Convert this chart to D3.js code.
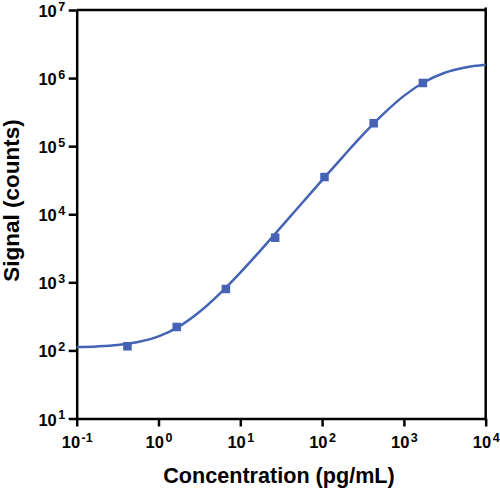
<!DOCTYPE html>
<html>
<head>
<meta charset="utf-8">
<script src="https://cdn.jsdelivr.net/npm/d3@7"></script>
<style>
  html, body { margin: 0; padding: 0; background: #fff; }
  svg { display: block; font-family: "Liberation Sans", Arial, sans-serif; }
</style>
</head>
<body>
<svg id="chart" width="500" height="492"></svg>
<script>
// Measured standards
const concentration = [0.417, 1.67, 6.67, 26.7, 107, 427, 1708];
const signal = [115, 221, 798, 4520, 35200, 217000, 847000];

// Fitted curve
const fitConc = [0.1, 0.178, 0.316, 0.562, 1, 1.78, 3.16, 5.62, 10, 17.8, 31.6, 56.2, 100, 178, 316, 562, 1000, 1780, 3160, 5620, 10000];
const fitSignal = [112, 114.5, 120, 133, 161, 224, 366, 682, 1391, 2975, 6509, 14370, 31710, 69150, 147400, 297900, 548000, 876700, 1198000, 1432000, 1569000];

// Axis ticks
const xTickExps = [-1, 0, 1, 2, 3, 4];
const yTickExps = [1, 2, 3, 4, 5, 6, 7];

const color = "#4563B5";
const svg = d3.select("#chart");
const mLeft = 76.7, mRight = 485.7, mTop = 10, mBottom = 418.5;

const x = d3.scaleLog().domain([0.1, 10000]).range([mLeft, mRight]);
const y = d3.scaleLog().domain([10, 1e7]).range([mBottom, mTop]);

function supLabels(sel, exps) {
  sel.selectAll(".tick text").each(function(d, i) {
    const t = d3.select(this).text(null)
      .style("font-size", "16.5px").style("font-weight", "bold")
      .style("font-family", "'Liberation Sans', Arial, sans-serif").attr("fill", "#000");
    t.append("tspan").text("10");
    t.append("tspan").attr("dx", 1.5).attr("dy", -6.5).style("font-size", "12.5px").text(exps[i]);
  });
}

// Frame (top and right)
svg.append("line").attr("x1", mLeft).attr("x2", mRight).attr("y1", mTop).attr("y2", mTop)
  .attr("stroke", "#000").attr("stroke-width", 2.5);
svg.append("line").attr("x1", mRight).attr("x2", mRight).attr("y1", mTop - 2.5).attr("y2", mBottom)
  .attr("stroke", "#000").attr("stroke-width", 2.5);

// X axis
const gx = svg.append("g").attr("transform", `translate(0,${mBottom})`)
  .call(d3.axisBottom(x).tickValues(xTickExps.map(e => Math.pow(10, e))).tickSize(8).tickSizeOuter(0).tickFormat(() => ""));
gx.select(".domain").attr("stroke-width", 2.5);
gx.selectAll(".tick line").attr("stroke-width", 2.5);
gx.selectAll(".tick text").attr("y", 29.5).attr("dy", 0);
supLabels(gx, xTickExps);

// Y axis
const gy = svg.append("g").attr("transform", `translate(${mLeft},0)`)
  .call(d3.axisLeft(y).tickValues(yTickExps.map(e => Math.pow(10, e))).tickSize(8).tickSizeOuter(0).tickFormat(() => ""));
gy.select(".domain").attr("stroke-width", 2.5);
gy.selectAll(".tick line").attr("stroke-width", 2.5);
gy.selectAll(".tick text").attr("x", -11.5).attr("dy", 6.5);
supLabels(gy, yTickExps);

// Fitted curve
const line = d3.line().x((d, i) => x(fitConc[i])).y(d => y(d)).curve(d3.curveMonotoneX);
svg.append("path").datum(fitSignal).attr("d", line)
  .attr("fill", "none").attr("stroke", color).attr("stroke-width", 2.5);

// Points
const s = 8.5;
svg.append("g").selectAll("rect").data(signal).join("rect")
  .attr("x", (d, i) => x(concentration[i]) - s / 2)
  .attr("y", d => y(d) - s / 2)
  .attr("width", s).attr("height", s)
  .attr("fill", color);

// Axis titles
svg.append("text").attr("x", 279).attr("y", 483).attr("text-anchor", "middle")
  .attr("font-size", 21.6).attr("font-weight", "bold").attr("fill", "#000")
  .text("Concentration (pg/mL)");
svg.append("text").attr("transform", "translate(18.5,200.5) rotate(-90)").attr("text-anchor", "middle")
  .attr("font-size", 22.5).attr("font-weight", "bold").attr("fill", "#000")
  .text("Signal (counts)");
</script>
</body>
</html>
